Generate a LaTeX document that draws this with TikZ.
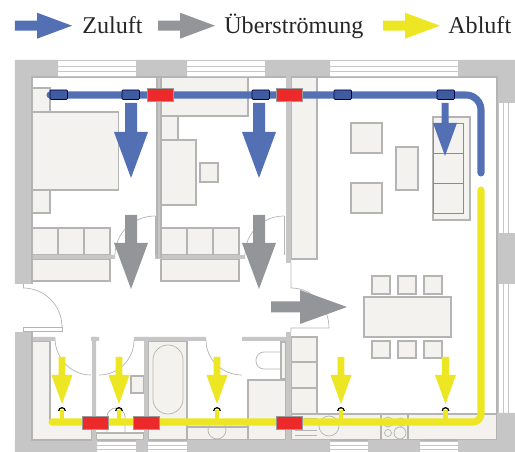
\documentclass[tikz,border=0pt]{standalone}
\usepackage{fontspec}
\setmainfont{Liberation Serif}
\definecolor{zublue}{HTML}{5470B5}
\definecolor{darkblue}{HTML}{3F5C9E}
\definecolor{uebgray}{HTML}{939598}
\definecolor{abyellow}{HTML}{EDE622}
\definecolor{ductred}{HTML}{EC2A2C}
\definecolor{wallgray}{HTML}{C6C6C6}
\definecolor{furngray}{HTML}{F3F2EE}
\definecolor{linegray}{HTML}{B4B4B4}
\tikzstyle{wall} = [fill=wallgray]
\tikzstyle{furn} = [fill=furngray,draw=linegray,line width=0.6pt]
\tikzstyle{door} = [draw=linegray,line width=0.4pt]
\tikzstyle{winline} = [draw=wallgray,line width=0.5pt]
\tikzstyle{label} = [anchor=base west,inner sep=0pt,text=black!85,font=\fontsize{13.7}{16}\selectfont]
\tikzstyle{socket} = [fill=darkblue,draw=black!70!blue,line width=0.4pt]
\tikzstyle{damper} = [fill=ductred,draw=black!40,line width=0.4pt]
\newcommand{\arrowdown}[7]{\fill[#1] ({#2-#3},#5) -- ({#2+#3},#5) -- ({#2+#3},#6) -- ({#2+#4},#6) -- (#2,#7) -- ({#2-#4},#6) -- ({#2-#3},#6) -- cycle;}
\newcommand{\arrowright}[7]{\fill[#1] (#5,{#2-#3}) -- (#5,{#2+#3}) -- (#6,{#2+#3}) -- (#6,{#2+#4}) -- (#7,#2) -- (#6,{#2-#4}) -- (#6,{#2-#3}) -- cycle;}

\begin{document}
\begin{tikzpicture}[x=0.02cm,y=-0.02cm]
  \useasboundingbox (0,0) rectangle (515,452);

  \arrowright{zublue}{25.7}{5}{13}{15}{37}{72}
  \arrowright{uebgray}{25.7}{5}{13}{158}{180}{215}
  \arrowright{abyellow}{25.7}{5}{13}{383}{405}{440}
  \node[label] at (82,34) (zuluft) {Zuluft};
  \node[label] at (224,34) (ueberstroemung) {Überströmung};
  \node[label] at (448,34) (abluft) {Abluft};

  \draw[furn] (32,88) rectangle (50,112);
  \draw[furn] (32,112) rectangle (118.5,190);
  \draw[furn] (32,190) rectangle (50,213);
  \draw[furn] (161,77) rectangle (248,116);
  \draw[furn] (161,116) rectangle (178,140);
  \draw[furn] (161,140) rectangle (196,205);
  \draw[furn] (200,163) rectangle (218,182);
  \foreach \x in {32,58,84} {
    \draw[furn] (\x,228) rectangle ({\x+26},255);
    \draw[furn] ({\x+129},228) rectangle ({\x+155},255);
  }
  \draw[furn] (32,259) rectangle (110,281);
  \draw[furn] (161,259) rectangle (239,281);

  \draw[furn] (291,77) rectangle (317,259);
  \draw[furn] (351,123) rectangle (382,153);
  \draw[furn] (351,183) rectangle (382,213);
  \draw[furn] (396,147) rectangle (418,190);
  \draw[furn] (433,117) rectangle (470,220);
  \foreach \y in {123,153,183} {
    \draw[furn,draw=black!45,line width=0.4pt] (433,\y) rectangle (463,{\y+30});
  }
  \draw[furn] (364,297) rectangle (451,337);
  \foreach \x in {372,398,424} {
    \draw[furn] (\x,276) rectangle ({\x+18},294);
    \draw[furn] (\x,341) rectangle ({\x+18},358);
  }

  \draw[furn] (291,414) rectangle (497,440);
  \foreach \y in {337,362,388} {
    \draw[furn] (291,\y) rectangle (317,{\y+26});
  }
  \draw[furn] (381,414) rectangle (408,440);
  \draw[door] (388,422) circle[radius=5] (401,422) circle[radius=4] (388,433) circle[radius=3.5] (400,433) circle[radius=6];
  \draw[door] (329,426) circle[radius=10];
  \foreach \y in {418,430,435} {
    \draw[door] (295,\y) -- (317,\y);
  }

  \draw[furn] (32,341) -- (50,341) -- (50,420) -- (92,420) -- (92,440) -- (32,440) -- cycle;
  \draw[furn] (131,376) rectangle (144,393);
  \draw[furn] (96,433) rectangle (144,440);
  \draw[door] (107,433) -- (107,417) arc[start angle=180,end angle=360,radius=9] -- (125,433);
  \draw[furn] (148,341) rectangle (187,440);
  \draw[door,rounded corners=0.3cm] (153,345) rectangle (183,414);
  \draw[furn] (187,427) rectangle (248,440);
  \draw[door] (217,430) circle[radius=9];
  \draw[furn] (248,380) rectangle (286,440);
  \draw[furn] (281,342) rectangle (286,379);
  \draw[door,rounded corners=0.16cm] (281,352) -- (256,352) -- (256,369) -- (281,369);

  \draw[door] (155,216) -- (155,255);
  \draw[door] (155,216) to[out=180,in=90] (115,255);
  \draw[door] (284,216) -- (284,255);
  \draw[door] (284,216) to[out=180,in=90] (245,255);
  \draw[door] (23,288) to[out=0,in=90] (62,327);
  \draw[door] (23,284) -- (23,288) (23,327) -- (62,327) -- (62,331) -- (23,331) -- (23,327);
  \draw[door] (291,263) -- (291,288) to[out=0,in=90] (329,328) -- (291,328) -- (291,332);
  \draw[door] (55,338) to[out=-90,in=180] (91,375);
  \draw[door] (134,340) to[out=-90,in=0] (99,375);
  \draw[door] (206,340) to[out=-90,in=180] (242,375);

  \fill[wall] (15,60) rectangle (58,77) (15,77) rectangle (32,284);
  \fill[wall] (136,60) rectangle (187,77) (265,60) rectangle (330,77);
  \fill[wall] (458,60) rectangle (515,77) (497,77) rectangle (515,103);
  \fill[wall] (497,233) rectangle (515,284);
  \fill[wall] (497,413) rectangle (515,452) (458,440) rectangle (497,452);
  \fill[wall] (368,440) rectangle (420,452) (187,440) rectangle (330,452);
  \fill[wall] (136,440) rectangle (148,452) (15,440) rectangle (97,452);
  \fill[wall] (15,332) rectangle (32,440);
  \fill[wall] (157,77) rectangle (161,258) (286,77) rectangle (291,263);
  \fill[wall] (32,255) rectangle (115,259) (155,255) rectangle (245,259);
  \fill[wall] (32,337) rectangle (55,341) (91,337) rectangle (99,341);
  \fill[wall] (134,337) rectangle (206,341) (242,337) rectangle (291,341);
  \fill[wall] (92,337) rectangle (96,440) (144,337) rectangle (148,440);
  \fill[wall] (286,332) rectangle (291,440);

  \draw[door,line width=0.6pt] (32,284) -- (32,77) -- (286,77) (291,77) -- (497,77) -- (497,413);
  \draw[door,line width=0.6pt] (32,332) -- (32,440) -- (92,440);
  \draw[door,line width=0.6pt] (157,77) -- (157,258) (161,77) -- (161,258);
  \foreach \x/\w in {58/136,187/265,330/458} {
    \foreach \y in {60.5,66,71,76} {
      \draw[winline] (\x,\y) -- (\w,\y);
    }
  }
  \foreach \x/\w in {97/136,148/187,330/368,420/458} {
    \foreach \y in {441,445,449} {
      \draw[winline] (\x,\y) -- (\w,\y);
    }
  }
  \foreach \y/\w in {103/233,284/413} {
    \foreach \x in {498,503,508} {
      \draw[winline] (\x,\y) -- (\x,\w);
    }
  }

  \foreach \x in {62,119,217,341,445.5} {
    \draw[abyellow,line width=2.3pt] (\x,422) -- (\x,410);
    \draw[black,line width=0.7pt] ({\x-3.3},411) arc[start angle=180,end angle=360,radius=3.3];
  }
  \draw[abyellow,line width=4pt,line cap=round,rounded corners=0.16cm] (481,190) -- (481,422) -- (52,422);
  \draw[zublue,line width=4pt,line cap=round,rounded corners=0.3cm] (50,95) -- (481,95) -- (481,173);
  \foreach \x in {50,122,252,334,437} {
    \draw[socket,rounded corners=0.02cm] (\x,90) rectangle ({\x+17.5},99.5);
  }
  \foreach \x in {147,276} {
    \draw[damper] (\x,88) rectangle ({\x+26},101.5);
  }
  \foreach \x in {82,133,276} {
    \draw[damper] (\x,416) rectangle ({\x+26},429);
  }

  \arrowdown{zublue}{131}{6}{17}{103}{132}{178}
  \arrowdown{zublue}{259}{6}{17}{103}{132}{178}
  \arrowdown{zublue}{445}{3.5}{12}{103}{123}{156}
  \arrowdown{uebgray}{131}{6}{17}{215}{243}{289}
  \arrowdown{uebgray}{259}{6}{17}{215}{243}{289}
  \arrowright{uebgray}{307}{5.5}{17}{271}{300}{347}
  \foreach \x in {62,119,217,341,445.5} {
    \arrowdown{abyellow}{\x}{3.3}{10.5}{357}{375}{404}
  }
\end{tikzpicture}
\end{document}
